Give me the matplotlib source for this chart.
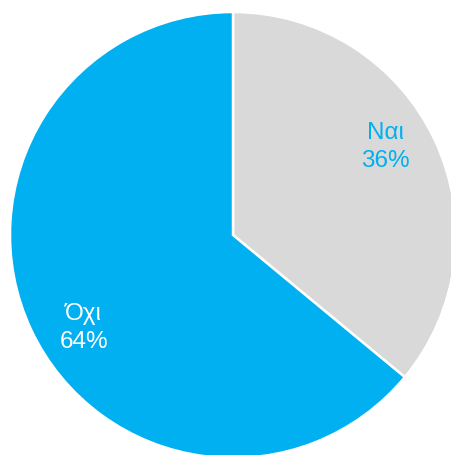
import numpy as np
import matplotlib.pyplot as plt

labels = ['Ναι', 'Όχι']
values = [36, 64]
colors = ['#D9D9D9', '#00B0F0']
text_colors = ['#00B0F0', 'white']
label_angles = [30, 212]  # degrees, where the text sits

fig = plt.figure(figsize=(4.52, 4.55), dpi=100)
ax = fig.add_axes([0, 0, 1, 1])

cx, cy, r = 233, 220, 223
wedges, texts = ax.pie(
    values, colors=colors, startangle=90, counterclock=False,
    center=(cx, cy), radius=r,
    wedgeprops={'edgecolor': 'white', 'linewidth': 1.8},
)
ax.set_xlim(0, 452)
ax.set_ylim(0, 455)
ax.set_aspect('equal')
ax.axis('off')

for lab, val, c, a in zip(labels, values, text_colors, label_angles):
    rad = np.deg2rad(a)
    ax.text(cx + 0.79 * r * np.cos(rad), cy + 0.79 * r * np.sin(rad),
            f'{lab}\n{val}%', color=c, fontsize=17.5, ha='center', va='center',
            family=['Liberation Sans', 'DejaVu Sans'], linespacing=1.35)

fig.savefig('out.png', dpi=100)
